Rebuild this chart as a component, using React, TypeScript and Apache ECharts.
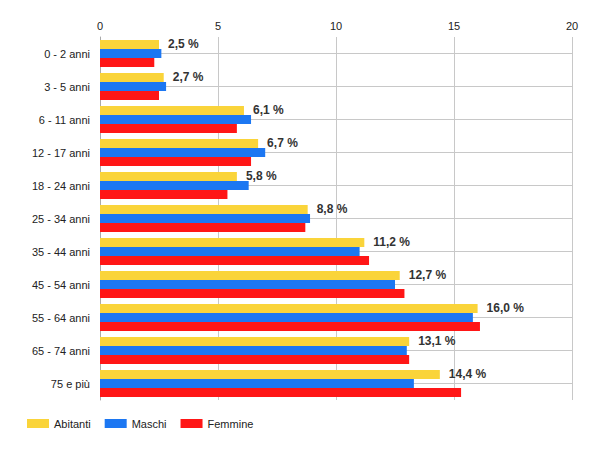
import * as echarts from "echarts";
import { useEffect, useRef } from "react";

const categories = [
  "0 - 2 anni",
  "3 - 5 anni",
  "6 - 11 anni",
  "12 - 17 anni",
  "18 - 24 anni",
  "25 - 34 anni",
  "35 - 44 anni",
  "45 - 54 anni",
  "55 - 64 anni",
  "65 - 74 anni",
  "75 e più",
];
const abitanti = [2.5, 2.7, 6.1, 6.7, 5.8, 8.8, 11.2, 12.7, 16.0, 13.1, 14.4];
const maschi = [2.6, 2.8, 6.4, 7.0, 6.3, 8.9, 11.0, 12.5, 15.8, 13.0, 13.3];
const femmine = [2.3, 2.5, 5.8, 6.4, 5.4, 8.7, 11.4, 12.9, 16.1, 13.1, 15.3];

const FONT = "'Liberation Sans', Arial, sans-serif";

export default function App() {
  const box = useRef<HTMLDivElement>(null);

  useEffect(() => {
    if (!box.current) return;
    const c = echarts.init(box.current, undefined, { renderer: "svg" });
    c.setOption({
      animation: false,
      textStyle: { fontFamily: FONT },
      grid: { left: 100, right: 28, top: 37, bottom: 50 },
      legend: {
        left: 22,
        top: 413,
        itemWidth: 22,
        itemHeight: 9,
        itemGap: 14,
        icon: "rect",
        textStyle: { fontSize: 11, color: "#222", fontFamily: FONT },
        data: ["Abitanti", "Maschi", "Femmine"],
      },
      xAxis: {
        type: "value",
        position: "top",
        min: 0,
        max: 20,
        interval: 5,
        axisLine: { show: false },
        axisTick: { show: false },
        axisLabel: { color: "#222", fontSize: 11, margin: 6 },
        splitLine: { lineStyle: { color: "#c8c8c8" } },
      },
      yAxis: {
        type: "category",
        inverse: true,
        data: categories,
        axisLine: { lineStyle: { color: "#aaa" } },
        axisTick: { alignWithLabel: true, length: 6, lineStyle: { color: "#111" } },
        axisLabel: { color: "#222", fontSize: 11, margin: 10 },
        // linee orizzontali al centro di ogni categoria, come le tacche
        splitLine: { show: true, alignWithLabel: true, lineStyle: { color: "#c8c8c8" } },
      },
      series: [
        {
          name: "Abitanti",
          type: "bar",
          data: abitanti,
          itemStyle: { color: "#FAD43A" },
          barGap: "0%",
          barCategoryGap: "18%",
          label: {
            show: true,
            position: "right",
            distance: 9,
            fontSize: 12,
            fontWeight: "bold",
            color: "#333",
            fontFamily: FONT,
            formatter: ({ value }: { value: number }) => `${value.toFixed(1).replace(".", ",")} %`,
          },
        },
        { name: "Maschi", type: "bar", data: maschi, itemStyle: { color: "#1C77F2" }, barGap: "0%", barCategoryGap: "18%" },
        { name: "Femmine", type: "bar", data: femmine, itemStyle: { color: "#FF1616" }, barGap: "0%", barCategoryGap: "18%" },
      ],
    });
    return () => c.dispose();
  }, []);

  return <div ref={box} style={{ width: 600, height: 450, margin: -8 }} />;
}
